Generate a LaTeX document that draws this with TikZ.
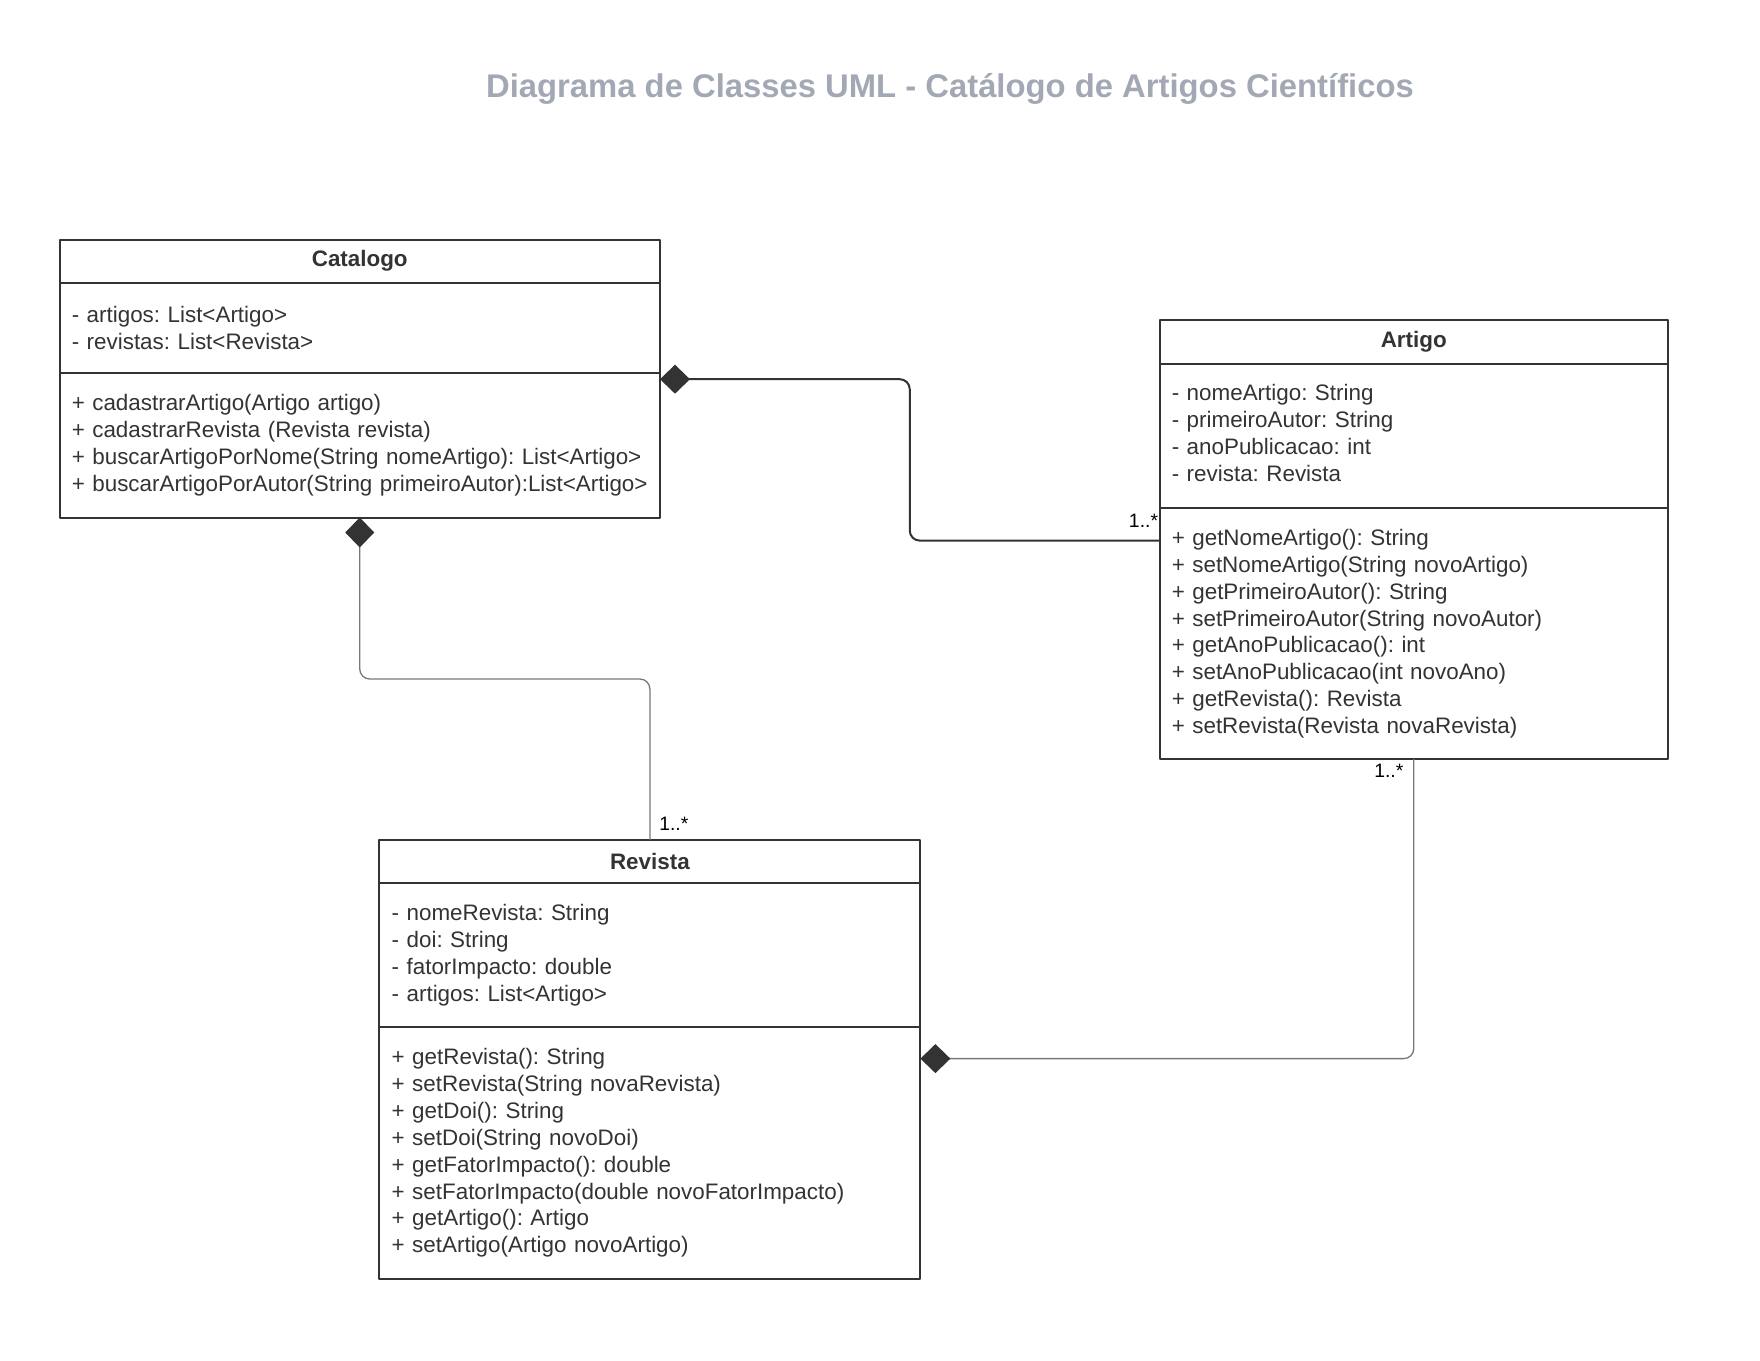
\documentclass[tikz,border=0pt]{standalone}
\usepackage{fontspec}
\setmainfont{Liberation Sans}
\usepackage{tikz}
\usetikzlibrary{arrows.meta}
\usetikzlibrary{positioning}
\definecolor{sqsqsq}{rgb}{0.2,0.2,0.2}
\definecolor{wvwvwv}{rgb}{0.47,0.47,0.47}
\definecolor{zzttzz}{rgb}{0.64,0.66,0.71}
\frenchspacing
\tikzset{
  classhead/.style={draw=sqsqsq, line width=1pt, outer sep=0pt, inner sep=0pt, minimum height=21.75pt, text=sqsqsq, font=\fontsize{11.2}{13.45}\selectfont\bfseries},
  classbody/.style={draw=sqsqsq, line width=1pt, outer sep=0pt, inner xsep=6.15pt, inner ysep=0pt, align=left, text=sqsqsq, font=\fontsize{11.2}{13.45}\selectfont},
  comp/.style={{Diamond[length=15pt,width=14.5pt,color=sqsqsq]}-, draw=wvwvwv, line width=0.65pt, rounded corners=5pt},
  mult/.style={inner sep=0pt, font=\fontsize{9.7}{11.6}\selectfont}
}

\begin{document}
\begin{tikzpicture}[x=0.5pt,y=-0.5pt,line cap=round,line join=round]
\useasboundingbox (0,0) rectangle (1760,1360);
\node[font=\fontsize{16.4}{19.7}\selectfont\bfseries, text=zzttzz] (titulo) at (950,88.7) {Diagrama de Classes UML - Catálogo de Artigos Científicos};

\node[classhead, minimum width=300.25pt, anchor=north] (chead) at (359.75,239.5) {Catalogo};
\node[classbody, below=0pt of chead, text width=287.95pt, minimum height=44.75pt] (cattr) {- artigos: List<Artigo>\\- revistas: List<Revista>};
\node[classbody, below=0pt of cattr, text width=287.95pt, minimum height=72.5pt] (cmeth) {+ cadastrarArtigo(Artigo artigo)\\+ cadastrarRevista (Revista revista)\\+ buscarArtigoPorNome(String nomeArtigo): List<Artigo>\\+ buscarArtigoPorAutor(String primeiroAutor):List<Artigo>};

\node[classhead, minimum width=254.25pt, anchor=north] (ahead) at (1413.75,320) {Artigo};
\node[classbody, below=0pt of ahead, text width=241.95pt, minimum height=72.2pt, yshift=0pt] (aattr) {- nomeArtigo: String\\- primeiroAutor: String\\- anoPublicacao: int\\- revista: Revista\vspace{3pt}};
\node[classbody, below=0pt of aattr, text width=241.95pt, minimum height=125.75pt] (ameth) {+ getNomeArtigo(): String\\+ setNomeArtigo(String novoArtigo)\\+ getPrimeiroAutor(): String\\+ setPrimeiroAutor(String novoAutor)\\+ getAnoPublicacao(): int\\+ setAnoPublicacao(int novoAno)\\+ getRevista(): Revista\\+ setRevista(Revista novaRevista)};

\node[classhead, minimum width=270.5pt, anchor=north] (rhead) at (649.9,839.6) {Revista};
\node[classbody, below=0pt of rhead, text width=258.2pt, minimum height=72pt] (rattr) {- nomeRevista: String\\- doi: String\\- fatorImpacto: double\\- artigos: List<Artigo>};
\node[classbody, below=0pt of rattr, text width=258.2pt, minimum height=125.75pt] (rmeth) {+ getRevista(): String\\+ setRevista(String novaRevista)\\+ getDoi(): String\\+ setDoi(String novoDoi)\\+ getFatorImpacto(): double\\+ setFatorImpacto(double novoFatorImpacto)\\+ getArtigo(): Artigo\\+ setArtigo(Artigo novoArtigo)};

\coordinate (catR) at ([yshift=-3.35pt]cmeth.north east);
\coordinate (artL) at ([yshift=-16.35pt]ameth.north west);
\coordinate (revR) at ([yshift=-15.75pt]rmeth.north east);
\coordinate (bendA) at (909.75,0);
\coordinate (bendB) at (0,679);

\draw[comp, draw=sqsqsq, line width=1pt] (catR) -| (bendA |- artL) -- (artL);
\draw[comp] (cmeth.south) |- (bendB -| rhead.north) -- (rhead.north);
\draw[comp] (revR) -| (ameth.south);

\node[mult, anchor=south east] (m1) at ([xshift=-0.5pt,yshift=6.5pt]artL) {1..*};
\node[mult, anchor=south west] (m2) at ([xshift=4.5pt,yshift=4.3pt]rhead.north) {1..*};
\node[mult, anchor=north east] (m3) at ([xshift=-5pt,yshift=-2pt]ameth.south) {1..*};
\end{tikzpicture}
\end{document}
